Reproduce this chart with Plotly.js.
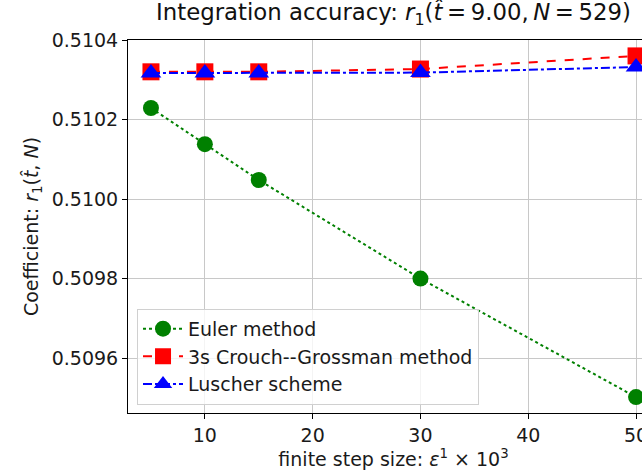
<!DOCTYPE html>
<html><head><meta charset="utf-8">
<script src="https://cdn.plot.ly/plotly-3.0.1.min.js"></script>
<style>html,body{margin:0;padding:0;overflow:hidden;width:642px;height:472px;background:#fff}</style>
</head><body><div id="chart"></div>
<script>
const stepSizes = [5, 10, 15, 30, 50];
const eulerVals = [0.510229, 0.510138, 0.510048, 0.509800, 0.509502];
const crouchVals = [0.510320, 0.510320, 0.510320, 0.510327, 0.510360];
const luscherVals = [0.510317, 0.510317, 0.510317, 0.510318, 0.510332];
const seriesNames = ["Euler method", "3s Crouch--Grossman method", "Luscher scheme"];
const yTicks = [0.5096, 0.5098, 0.5100, 0.5102, 0.5104];
const xTicks = [10, 20, 30, 40, 50];

const font = "DejaVu Sans, sans-serif";
const traces = [
  {x: stepSizes, y: eulerVals, name: seriesNames[0], mode: "lines+markers",
   line: {color: "#008000", dash: "dot", width: 2}, marker: {symbol: "circle", size: 16, color: "#008000"}},
  {x: stepSizes, y: crouchVals, name: seriesNames[1], mode: "lines+markers",
   line: {color: "#ff0000", dash: "dash", width: 2}, marker: {symbol: "square", size: 17, color: "#ff0000"}},
  {x: stepSizes, y: luscherVals, name: seriesNames[2], mode: "lines+markers",
   line: {color: "#0000ff", dash: "dashdot", width: 2}, marker: {symbol: "triangle-up", size: 18, color: "#0000ff"}}
];
const th = "\u2009";
const layout = {
  width: 700, height: 472,
  margin: {l: 128, r: 41, t: 40, b: 59},
  paper_bgcolor: "#fff", plot_bgcolor: "#fff",
  font: {family: font, size: 19, color: "#1a1a1a"},
  title: {text: "Integration accuracy: <i>r</i><sub>1</sub>(<i>t̂</i>" + th + "=" + th + "9.00," + th + "<i>N</i>" + th + "=" + th + "529)",
          font: {size: 22.8, color: "#111"}, xref: "paper", x: 0.5, xanchor: "center", y: 0.992, yanchor: "top"},
  xaxis: {range: [2.87, 52.13], tickvals: xTicks, showgrid: true, gridcolor: "#c8c8c8", gridwidth: 1,
          showline: true, linecolor: "#000", linewidth: 1, mirror: true, ticks: "outside", ticklen: 5,
          tickcolor: "#000", zeroline: false, tickfont: {size: 19},
          title: {text: "finite step size: <i>ε</i><sup>1</sup> × 10<sup>3</sup>", font: {size: 19}, standoff: 6}},
  yaxis: {range: [0.509462, 0.5104], tickvals: yTicks, tickformat: ".4f", showgrid: true, gridcolor: "#c8c8c8",
          gridwidth: 1, showline: true, linecolor: "#000", linewidth: 1, mirror: true, ticks: "outside",
          ticklen: 5, tickcolor: "#000", zeroline: false, tickfont: {size: 19},
          title: {text: "Coefficient: <i>r</i><sub>1</sub>(<i>t̂</i>, <i>N</i>)", font: {size: 19}, standoff: 8}},
  legend: {x: 0.017, y: 0.022, xanchor: "left", yanchor: "bottom", bgcolor: "rgba(255,255,255,0.8)",
           bordercolor: "#d0d0d0", borderwidth: 1, font: {size: 19}, tracegroupgap: 0, itemwidth: 40},
  showlegend: true
};
Plotly.newPlot("chart", traces, layout, {displayModeBar: false, staticPlot: true});
</script></body></html>
